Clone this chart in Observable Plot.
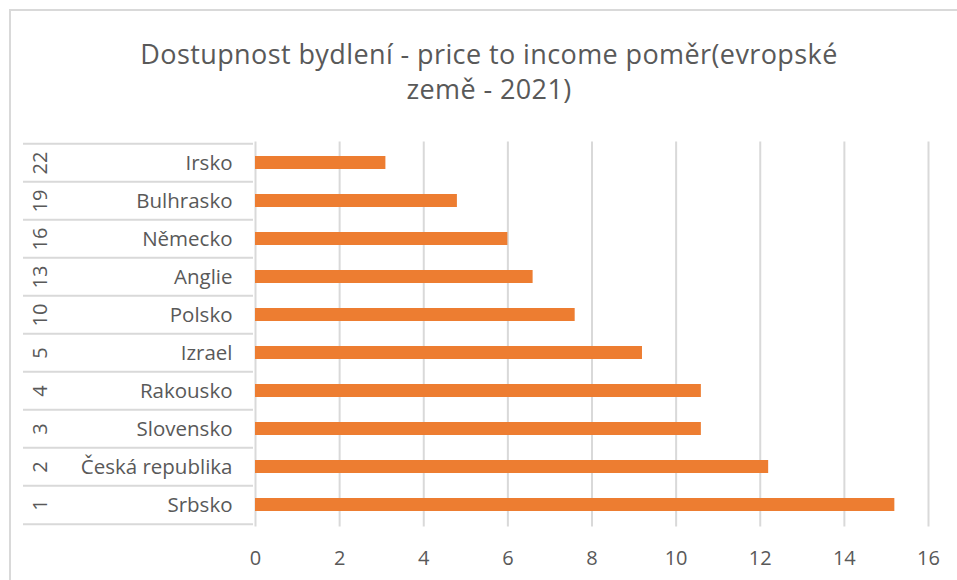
<!DOCTYPE html>
<html><head><meta charset="utf-8">
<script src="https://cdn.jsdelivr.net/npm/d3@7"></script>
<script src="https://cdn.jsdelivr.net/npm/@observablehq/plot@0.6"></script>
<style>
body{margin:0;background:#fff;font-family:"Open Sans",sans-serif;}
#wrap{position:relative;width:957px;height:580px;overflow:hidden;background:#fff}
#chart{position:absolute;left:0;top:0}
#title{position:absolute;left:0;top:36px;width:978px;text-align:center;font-size:27px;line-height:35px;letter-spacing:0.4px;color:#595959;font-family:"Open Sans",sans-serif;font-weight:400}
#border{position:absolute;left:9px;top:9px;width:960px;height:600px;border-top:2px solid #d9d9d9;border-left:2px solid #d9d9d9;box-sizing:border-box}
</style></head><body>
<div id="wrap"><div id="chart"></div><div id="border"></div><div id="title">Dostupnost bydlení - price to income poměr(evropské<br>země - 2021)</div></div>
<script>
const countries = ["Irsko","Bulhrasko","Německo","Anglie","Polsko","Izrael","Rakousko","Slovensko","Česká republika","Srbsko"];
const ranks = [22,19,16,13,10,5,4,3,2,1];
const ratios = [3.1,4.8,6.0,6.6,7.6,9.2,10.6,10.6,12.2,15.2];
const xTicks = [0,2,4,6,8,10,12,14,16];

const data = countries.map((c,i)=>({country:c, rank:String(ranks[i]), ratio:ratios[i]}));
const W=957, H=580, mt=141.5, mb=53.5, ml=255, mr=29;
const n = countries.length;
const step = (H-mt-mb)/n;
const tableLeft = 23, axisX0 = 253;
const font = "'Open Sans', sans-serif";

const chart = Plot.plot({
  width:W, height:H, marginLeft:ml, marginRight:mr, marginTop:mt, marginBottom:mb,
  style:{fontFamily:font, fontSize:"20px", color:"#595959", background:"transparent", overflow:"visible"},
  x:{domain:[0,16], label:null},
  y:{domain:countries, paddingInner:0.65, paddingOuter:0.325, label:null},
  marks:[
    Plot.gridX(xTicks, {stroke:"#d9d9d9", strokeOpacity:1, strokeWidth:2}),
    Plot.ruleY(countries, {y:d=>d, dy:-step/2, insetLeft:tableLeft-ml, insetRight:W-mr-axisX0, stroke:"#d9d9d9", strokeWidth:2}),
    Plot.ruleY([countries[n-1]], {y:d=>d, dy:step/2, insetLeft:tableLeft-ml, insetRight:W-mr-axisX0, stroke:"#d9d9d9", strokeWidth:2}),
    Plot.barX(data, {x:"ratio", y:"country", fill:"#ed7d31"}),
    Plot.axisY({tickSize:0, tickPadding:23, fill:"#595959", fontSize:20.5}),
    Plot.axisX(xTicks, {tickSize:0, tickPadding:24, fill:"#595959", fontSize:20}),
    Plot.text(data, {y:"country", text:"rank", frameAnchor:"left", textAnchor:"middle", dx:40-ml, rotate:-90, fill:"#595959", fontSize:20})
  ]
});
document.getElementById("chart").appendChild(chart);
</script>
</body></html>
